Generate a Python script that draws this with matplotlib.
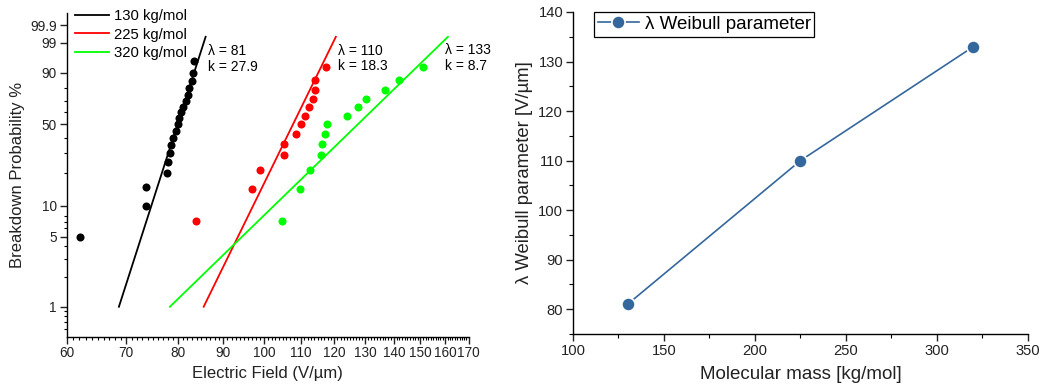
import numpy as np
import matplotlib
matplotlib.use("Agg")
import matplotlib.pyplot as plt
from matplotlib.ticker import FixedLocator, NullFormatter

plt.rcParams['font.family'] = ['Liberation Sans', 'DejaVu Sans']

# breakdown field (V/um) and cumulative probability (%) for each batch
field_130 = [62.1, 73.7, 73.7, 77.9, 78.1, 78.4, 78.7, 79.1, 79.7, 80.0,
             80.3, 80.7, 81.0, 81.7, 82.1, 82.3, 82.9, 83.2, 83.5]
prob_130 = [5, 10, 15, 20, 25, 30, 35, 40, 45, 50,
            55, 60, 65, 70, 75, 80, 85, 90, 95]

field_225 = [83.9, 96.9, 98.9, 105.4, 105.4, 108.8, 110.0, 111.3, 112.4,
             113.6, 114.2, 114.3, 117.6]
prob_225 = [7.1, 14.3, 21.4, 28.6, 35.7, 42.9, 50.0, 57.1, 64.3, 71.4,
            78.6, 85.7, 92.9]

field_320 = [104.9, 109.7, 112.6, 116.0, 116.3, 117.2, 117.7, 124.0, 127.5,
             130.2, 137.0, 141.9, 151.0]
prob_320 = [7.1, 14.3, 21.4, 28.6, 35.7, 42.9, 50.0, 57.1, 64.3, 71.4,
            78.6, 85.7, 92.9]

labels = ['130 kg/mol', '225 kg/mol', '320 kg/mol']
colors = ['black', '#ff0000', '#00ff00']
lam = [81, 110, 133]
shape = [27.9, 18.3, 8.7]

# summary: scale parameter vs molecular mass
mass = [130, 225, 320]
lam_fit = [81, 110, 133]


def weib(p):
    p = np.clip(np.asarray(p, dtype=float), 1e-6, 100 - 1e-6)
    return np.log(-np.log(1 - p / 100.0))


def weib_inv(v):
    return 100.0 * (1 - np.exp(-np.exp(np.asarray(v, dtype=float))))


fig = plt.figure(figsize=(10.54, 3.89), dpi=100)
ax1 = fig.add_axes([0.0633, 0.1344, 0.3814, 0.8322])
ax2 = fig.add_axes([0.5436, 0.1414, 0.4317, 0.8278])

# ---- Weibull plot ----
ax1.set_xscale('log')
ax1.set_yscale('function', functions=(weib, weib_inv))

data = [(field_130, prob_130), (field_225, prob_225), (field_320, prob_320)]
for (x, p), c, lab, l, k in zip(data, colors, labels, lam, shape):
    pf = np.array([1.0, 99.5])
    xf = l * (-np.log(1 - pf / 100)) ** (1 / k)
    ax1.plot(xf, pf, color=c, lw=1.3, label=lab)
    ax1.plot(x, p, 'o', color=c, ms=5.8, mec='none')

ax1.text(86.5, 98.85, 'λ = 81\nk = 27.9', fontsize=10, va='top', ha='left',
         linespacing=1.15)
ax1.text(121.2, 98.9, 'λ = 110\nk = 18.3', fontsize=10, va='top', ha='left',
         linespacing=1.15)
ax1.text(159.8, 98.95, 'λ = 133\nk = 8.7', fontsize=10, va='top', ha='left',
         linespacing=1.15)

ax1.set_xlim(60, 170)
ax1.set_ylim(0.5, 99.99)
ax1.xaxis.set_major_locator(FixedLocator(range(60, 171, 10)))
ax1.xaxis.set_minor_locator(FixedLocator([v for v in range(61, 170) if v % 10]))
ax1.set_xticklabels([str(v) for v in range(60, 171, 10)])
ax1.xaxis.set_minor_formatter(NullFormatter())

yt = [1, 5, 10, 50, 90, 99, 99.9]
ax1.yaxis.set_major_locator(FixedLocator(yt))
ax1.set_yticklabels(['1', '5', '10', '50', '90', '99', '99.9'])
ax1.yaxis.set_minor_locator(FixedLocator([0.6, 0.7, 0.8, 0.9, 2, 3, 4, 6, 7, 8,
                                          20, 30, 40, 60, 70, 80]))
ax1.yaxis.set_minor_formatter(NullFormatter())

for s in ['top', 'right']:
    ax1.spines[s].set_visible(False)
for s in ['left', 'bottom']:
    ax1.spines[s].set_linewidth(1.0)
ax1.tick_params(which='major', direction='out', length=5, width=1,
                labelsize=9.8, colors='#222222', pad=2)
ax1.tick_params(which='minor', direction='out', length=2.5, width=0.8)
ax1.set_xlabel('Electric Field (V/µm)', fontsize=12, labelpad=4, color='#222222')
ax1.set_ylabel('Breakdown Probability %', fontsize=12, labelpad=4, color='#222222')

ax1.legend(loc='upper left', bbox_to_anchor=(0.005, 1.03), frameon=False,
           fontsize=10.7, handlelength=2.3, handletextpad=0.35,
           labelspacing=0.3, borderaxespad=0)

# ---- scale parameter vs molecular mass ----
blue = '#34679c'
ax2.plot(mass, lam_fit, '-o', color=blue, lw=1.2, ms=9.5, mec='white', mew=1.2,
         label='λ Weibull parameter')
ax2.set_xlim(100, 350)
ax2.set_ylim(75, 140)
ax2.set_xticks([100, 150, 200, 250, 300, 350])
ax2.set_xticks([125, 175, 225, 275, 325], minor=True)
ax2.set_yticks([80, 90, 100, 110, 120, 130, 140])
ax2.set_yticks([75, 85, 95, 105, 115, 125, 135], minor=True)
for s in ['top', 'right']:
    ax2.spines[s].set_visible(False)
for s in ['left', 'bottom']:
    ax2.spines[s].set_linewidth(1.0)
ax2.tick_params(which='major', direction='out', length=5, width=1,
                labelsize=10.6, colors='#222222', pad=2)
ax2.tick_params(which='minor', direction='out', length=3, width=0.8)
ax2.set_xlabel('Molecular mass [kg/mol]', fontsize=13.5, labelpad=6, color='#222222')
ax2.set_ylabel('λ Weibull parameter [V/µm]', fontsize=13.3, labelpad=4, color='#222222')

leg = ax2.legend(loc='upper left', bbox_to_anchor=(0.046, 1.0), fontsize=13.5,
                 handlelength=2.2, handletextpad=0.3, borderpad=0.2,
                 borderaxespad=0, fancybox=False, framealpha=1)
leg.get_frame().set_edgecolor('black')
leg.get_frame().set_linewidth(0.9)

fig.savefig('out.png', dpi=100)
